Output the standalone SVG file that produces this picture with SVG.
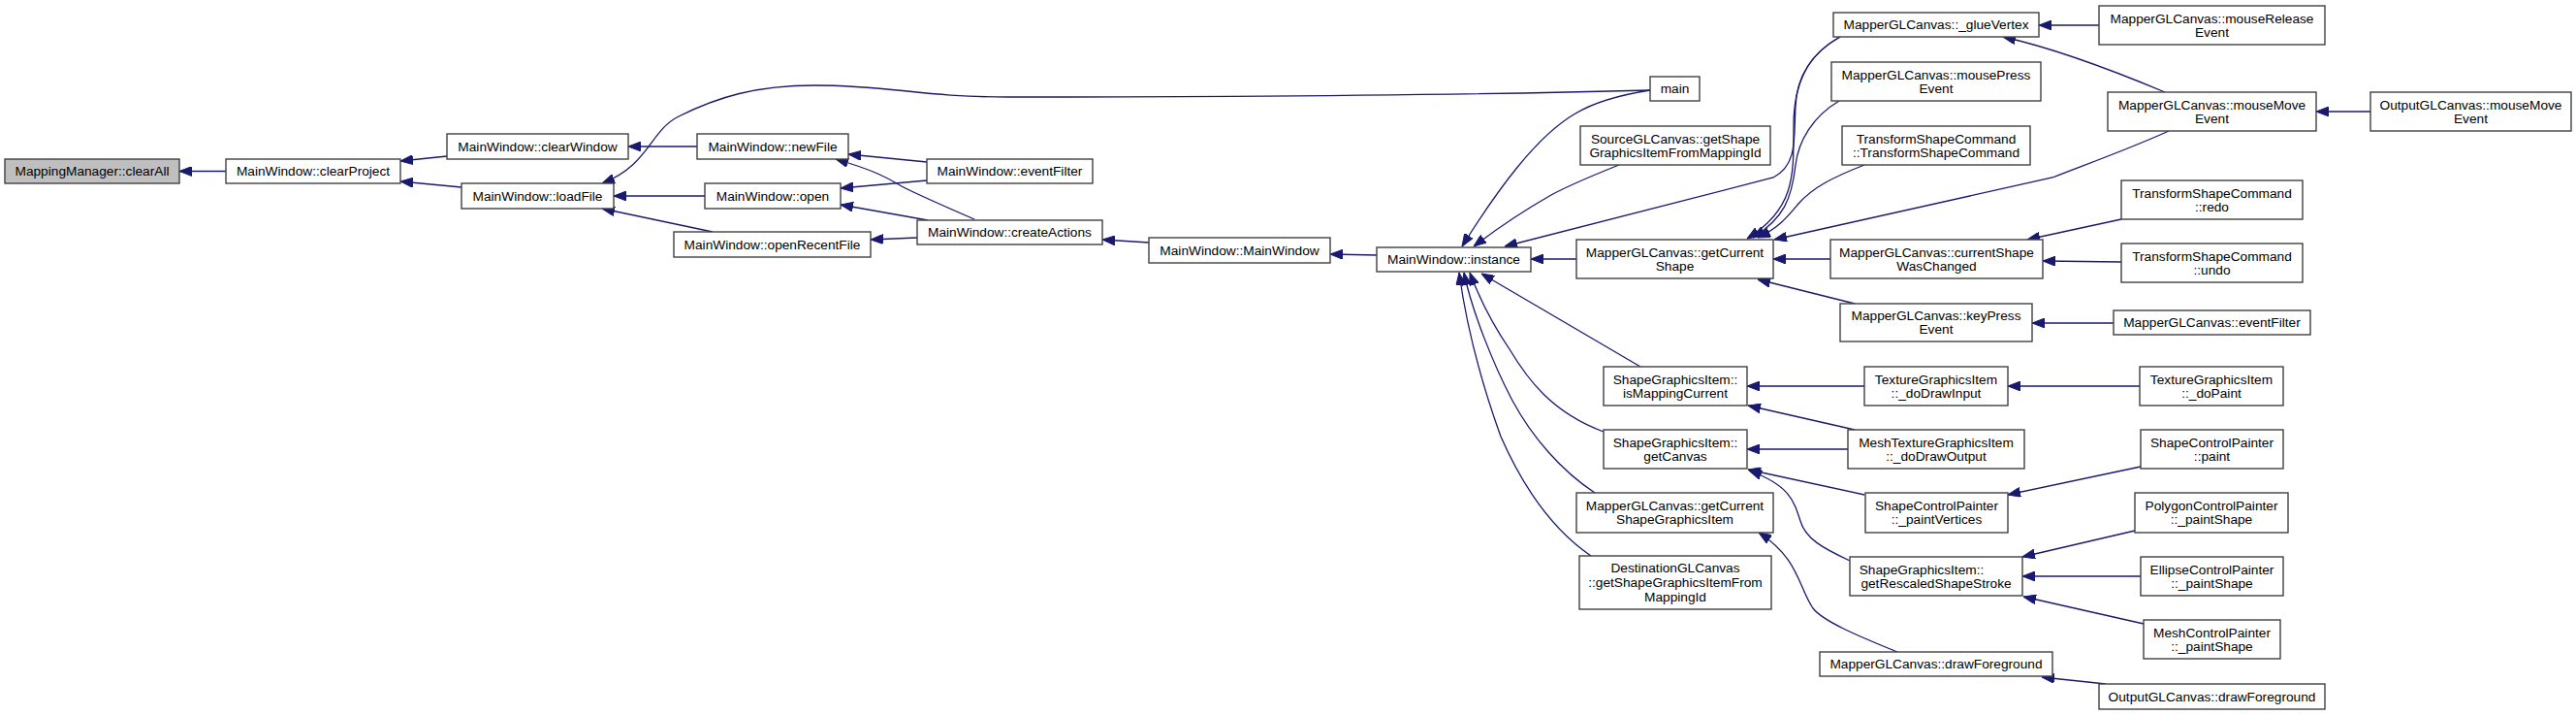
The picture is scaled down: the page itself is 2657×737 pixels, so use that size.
<svg xmlns="http://www.w3.org/2000/svg" width="2657" height="737" viewBox="0 0 2657 737">
<style>
.n rect{fill:#fff;stroke:#404040;stroke-width:1.4}
.n.hl rect{fill:#bfbfbf}
.n text{font-family:"Liberation Sans",Arial,sans-serif;font-size:13.7px;fill:#000;text-anchor:middle}
#edges path{fill:none;stroke:#191970;stroke-width:1.3;marker-end:url(#ah)}
</style>
<defs>
<marker id="ah" viewBox="0 0 13 10" refX="13" refY="5" markerWidth="13" markerHeight="10" markerUnits="userSpaceOnUse" orient="auto"><path d="M0,0L13,5L0,10z" fill="#191970" stroke="#191970" stroke-width="1"/></marker>
</defs>
<rect width="2657" height="737" fill="#fff"/>
<g id="edges">
<path d="M233,176.5L185,176.5"/>
<path d="M461,161L413,166"/>
<path d="M476,193L413,187"/>
<path d="M719,151L648,151"/>
<path d="M1702,93C1550,97 1300,100 1040,100C950,100 920,88 840,88C780,88 740,100 700,120C670,135 670,170 621,189"/>
<path d="M727,202L633,202"/>
<path d="M735,239L621,215"/>
<path d="M956,167L875,159"/>
<path d="M1005,226C975,213 945,200 930,192C915,183 900,175 862,164"/>
<path d="M956,186L867,194"/>
<path d="M957,227L867,211"/>
<path d="M946,245L898,247"/>
<path d="M1185,250L1137,247"/>
<path d="M1420,263L1372,262"/>
<path d="M1702,93C1670,98 1645,105 1625,117C1585,140 1545,195 1508,254"/>
<path d="M1670,170C1640,182 1620,190 1600,201C1570,218 1545,235 1520,254"/>
<path d="M1898,38C1868,55 1853,80 1852,110C1850,140 1855,170 1829,183L1552,254"/>
<path d="M1626,267L1579,267"/>
<path d="M1692,378L1528,282"/>
<path d="M1654,445C1600,425 1575,390 1557,360C1540,335 1525,305 1516,281"/>
<path d="M1645,508C1610,485 1580,450 1560,413C1540,375 1518,320 1510,281"/>
<path d="M1641,573C1600,545 1570,500 1548,450C1530,400 1513,340 1505,281"/>
<path d="M1888,267L1829,267"/>
<path d="M1913,313L1813,288"/>
<path d="M2188,226L2091,247"/>
<path d="M2188,270L2107,269"/>
<path d="M2180,333L2096,333"/>
<path d="M2165,26L2103,26"/>
<path d="M2233,95C2190,77 2120,50 2066,38"/>
<path d="M2237,135C2200,152 2150,170 2117,183L1830,247"/>
<path d="M2445,115L2389,115"/>
<path d="M1898,38C1865,56 1850,85 1850,130C1850,180 1852,215 1802,246"/>
<path d="M1897,104C1870,120 1855,145 1852,170C1848,205 1840,225 1808,245"/>
<path d="M1923,170C1890,183 1870,193 1855,210C1845,222 1835,235 1813,245"/>
<path d="M1923,398L1802,398"/>
<path d="M1913,443L1803,418"/>
<path d="M1906,463L1802,463"/>
<path d="M1923,510L1803,484"/>
<path d="M1908,578C1880,565 1862,555 1857,537C1850,515 1845,500 1804,485"/>
<path d="M1957,672C1915,655 1880,640 1870,627C1855,605 1855,575 1814,549"/>
<path d="M2207,398L2071,398"/>
<path d="M2208,481L2071,510"/>
<path d="M2202,547L2086,574"/>
<path d="M2208,594L2086,594"/>
<path d="M2211,643L2087,615"/>
<path d="M2172,705L2106,698"/>
</g>
<g id="n1" class="n hl"><rect x="5" y="164" width="180" height="25"/><text x="95" y="181.3">MappingManager::clearAll</text></g>
<g id="n2" class="n"><rect x="233" y="164" width="180" height="25"/><text x="323" y="181.3">MainWindow::clearProject</text></g>
<g id="n3" class="n"><rect x="461" y="138" width="187" height="26"/><text x="554.5" y="155.8">MainWindow::clearWindow</text></g>
<g id="n4" class="n"><rect x="476" y="189" width="157" height="26"/><text x="554.5" y="206.8">MainWindow::loadFile</text></g>
<g id="n5" class="n"><rect x="719" y="138" width="156" height="26"/><text x="797" y="155.8">MainWindow::newFile</text></g>
<g id="n6" class="n"><rect x="727" y="189" width="140" height="26"/><text x="797" y="206.8">MainWindow::open</text></g>
<g id="n7" class="n"><rect x="695" y="239" width="203" height="26"/><text x="796.5" y="256.8">MainWindow::openRecentFile</text></g>
<g id="n8" class="n"><rect x="956" y="164" width="171" height="25"/><text x="1041.5" y="181.3">MainWindow::eventFilter</text></g>
<g id="n9" class="n"><rect x="946" y="227" width="191" height="25"/><text x="1041.5" y="244.3">MainWindow::createActions</text></g>
<g id="n10" class="n"><rect x="1185" y="245" width="187" height="26"/><text x="1278.5" y="262.8">MainWindow::MainWindow</text></g>
<g id="n11" class="n"><rect x="1702" y="79" width="51" height="25"/><text x="1727.5" y="96.3">main</text></g>
<g id="n12" class="n"><rect x="1630" y="130" width="196" height="40"/><text x="1728" y="147.8">SourceGLCanvas::getShape</text><text x="1728" y="161.8">GraphicsItemFromMappingId</text></g>
<g id="n13" class="n"><rect x="1420" y="255" width="159" height="25"/><text x="1499.5" y="272.3">MainWindow::instance</text></g>
<g id="n14" class="n"><rect x="1626" y="247" width="203" height="40"/><text x="1727.5" y="264.8">MapperGLCanvas::getCurrent</text><text x="1727.5" y="278.8">Shape</text></g>
<g id="n15" class="n"><rect x="1654" y="378" width="148" height="40"/><text x="1728" y="395.8">ShapeGraphicsItem::</text><text x="1728" y="409.8">isMappingCurrent</text></g>
<g id="n16" class="n"><rect x="1654" y="443" width="148" height="40"/><text x="1728" y="460.8">ShapeGraphicsItem::</text><text x="1728" y="474.8">getCanvas</text></g>
<g id="n17" class="n"><rect x="1626" y="508" width="203" height="41"/><text x="1727.5" y="526.3">MapperGLCanvas::getCurrent</text><text x="1727.5" y="540.3">ShapeGraphicsItem</text></g>
<g id="n18" class="n"><rect x="1629" y="573" width="198" height="55"/><text x="1728" y="590.3">DestinationGLCanvas</text><text x="1728" y="605.3">::getShapeGraphicsItemFrom</text><text x="1728" y="620.3">MappingId</text></g>
<g id="n19" class="n"><rect x="1891" y="13" width="212" height="25"/><text x="1997" y="30.3">MapperGLCanvas::_glueVertex</text></g>
<g id="n20" class="n"><rect x="1889" y="64" width="216" height="40"/><text x="1997" y="81.8">MapperGLCanvas::mousePress</text><text x="1997" y="95.8">Event</text></g>
<g id="n21" class="n"><rect x="1900" y="130" width="194" height="40"/><text x="1997" y="147.8">TransformShapeCommand</text><text x="1997" y="161.8">::TransformShapeCommand</text></g>
<g id="n22" class="n"><rect x="1888" y="247" width="219" height="40"/><text x="1997.5" y="264.8">MapperGLCanvas::currentShape</text><text x="1997.5" y="278.8">WasChanged</text></g>
<g id="n23" class="n"><rect x="1898" y="313" width="198" height="39"/><text x="1997" y="330.3">MapperGLCanvas::keyPress</text><text x="1997" y="344.3">Event</text></g>
<g id="n24" class="n"><rect x="2165" y="6" width="233" height="40"/><text x="2281.5" y="23.8">MapperGLCanvas::mouseRelease</text><text x="2281.5" y="37.8">Event</text></g>
<g id="n25" class="n"><rect x="2174" y="95" width="215" height="40"/><text x="2281.5" y="112.8">MapperGLCanvas::mouseMove</text><text x="2281.5" y="126.8">Event</text></g>
<g id="n26" class="n"><rect x="2188" y="186" width="187" height="40"/><text x="2281.5" y="203.8">TransformShapeCommand</text><text x="2281.5" y="217.8">::redo</text></g>
<g id="n27" class="n"><rect x="2188" y="251" width="187" height="40"/><text x="2281.5" y="268.8">TransformShapeCommand</text><text x="2281.5" y="282.8">::undo</text></g>
<g id="n28" class="n"><rect x="2180" y="320" width="203" height="25"/><text x="2281.5" y="337.3">MapperGLCanvas::eventFilter</text></g>
<g id="n29" class="n"><rect x="2445" y="95" width="207" height="40"/><text x="2548.5" y="112.8">OutputGLCanvas::mouseMove</text><text x="2548.5" y="126.8">Event</text></g>
<g id="n30" class="n"><rect x="1923" y="378" width="148" height="40"/><text x="1997" y="395.8">TextureGraphicsItem</text><text x="1997" y="409.8">::_doDrawInput</text></g>
<g id="n31" class="n"><rect x="1906" y="443" width="182" height="40"/><text x="1997" y="460.8">MeshTextureGraphicsItem</text><text x="1997" y="474.8">::_doDrawOutput</text></g>
<g id="n32" class="n"><rect x="1924" y="508" width="147" height="41"/><text x="1997.5" y="526.3">ShapeControlPainter</text><text x="1997.5" y="540.3">::_paintVertices</text></g>
<g id="n33" class="n"><rect x="1908" y="574" width="178" height="40"/><text x="1982" y="591.8">ShapeGraphicsItem::</text><text x="1997" y="605.8">getRescaledShapeStroke</text></g>
<g id="n34" class="n"><rect x="1877" y="672" width="240" height="25"/><text x="1997" y="689.3">MapperGLCanvas::drawForeground</text></g>
<g id="n35" class="n"><rect x="2165" y="705" width="233" height="26"/><text x="2281.5" y="722.8">OutputGLCanvas::drawForeground</text></g>
<g id="n36" class="n"><rect x="2207" y="378" width="148" height="40"/><text x="2281" y="395.8">TextureGraphicsItem</text><text x="2281" y="409.8">::_doPaint</text></g>
<g id="n37" class="n"><rect x="2208" y="443" width="147" height="40"/><text x="2281.5" y="460.8">ShapeControlPainter</text><text x="2281.5" y="474.8">::paint</text></g>
<g id="n38" class="n"><rect x="2202" y="508" width="158" height="41"/><text x="2281" y="526.3">PolygonControlPainter</text><text x="2281" y="540.3">::_paintShape</text></g>
<g id="n39" class="n"><rect x="2208" y="574" width="147" height="40"/><text x="2281.5" y="591.8">EllipseControlPainter</text><text x="2281.5" y="605.8">::_paintShape</text></g>
<g id="n40" class="n"><rect x="2211" y="639" width="141" height="40"/><text x="2281.5" y="656.8">MeshControlPainter</text><text x="2281.5" y="670.8">::_paintShape</text></g>
</svg>
